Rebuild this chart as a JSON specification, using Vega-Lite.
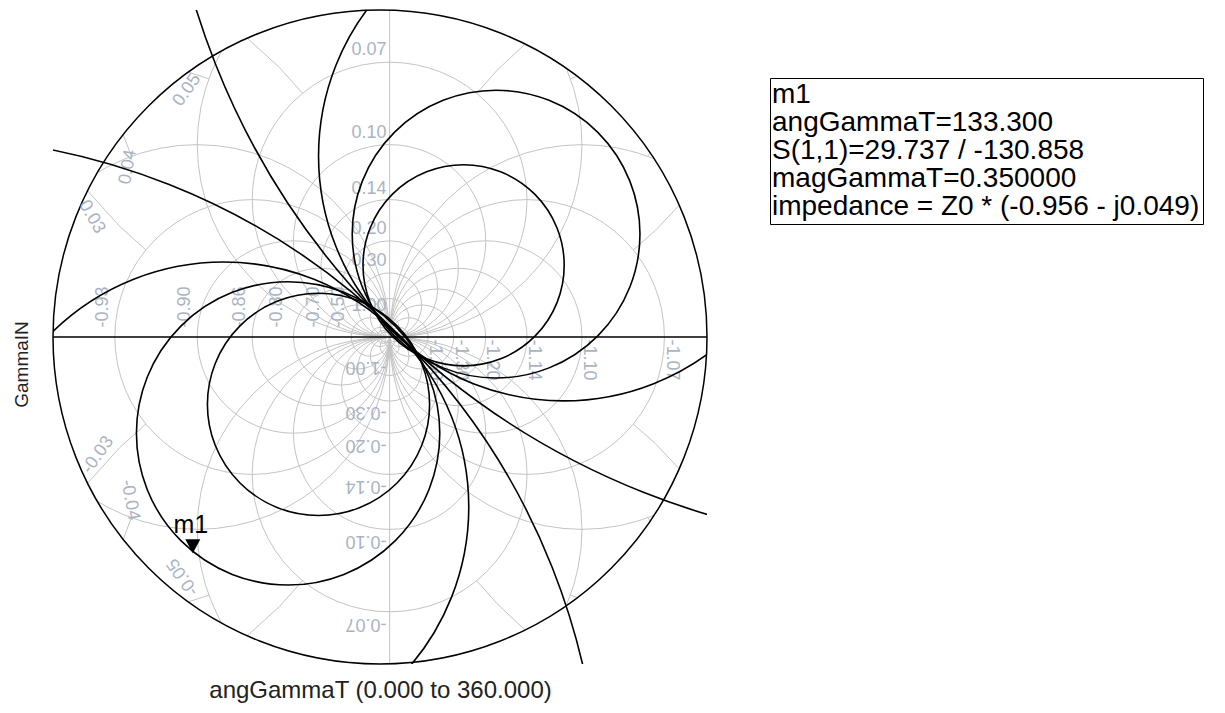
{
  "$schema": "https://vega.github.io/schema/vega-lite/v6.json",
  "width": 654,
  "height": 654,
  "autosize": "none",
  "padding": {"left": 53, "top": 10, "right": 518, "bottom": 49},
  "background": "white",
  "config": {"view": {"stroke": null}, "font": "Liberation Sans"},
  "datasets": {
    "grid": [
      {"gx": -19, "gy": 0, "r": 20},
      {"gx": -13.2857, "gy": 0, "r": 14.2857},
      {"gx": -9, "gy": 0, "r": 10},
      {"gx": -6.1429, "gy": 0, "r": 7.1429},
      {"gx": -4, "gy": 0, "r": 5},
      {"gx": -2.3333, "gy": 0, "r": 3.3333},
      {"gx": -1, "gy": 0, "r": 2},
      {"gx": 0, "gy": 0, "r": 1},
      {"gx": 0.3333, "gy": 0, "r": 0.6667},
      {"gx": 0.5, "gy": 0, "r": 0.5},
      {"gx": 21, "gy": 0, "r": 20},
      {"gx": 15.2857, "gy": 0, "r": 14.2857},
      {"gx": 11, "gy": 0, "r": 10},
      {"gx": 8.1429, "gy": 0, "r": 7.1429},
      {"gx": 6, "gy": 0, "r": 5},
      {"gx": 4.3333, "gy": 0, "r": 3.3333},
      {"gx": 3, "gy": 0, "r": 2},
      {"gx": 2, "gy": 0, "r": 1},
      {"gx": 1.5, "gy": 0, "r": 0.5},
      {"gx": 1, "gy": 20, "r": 20},
      {"gx": 1, "gy": -20, "r": 20},
      {"gx": 1, "gy": 14.2857, "r": 14.2857},
      {"gx": 1, "gy": -14.2857, "r": 14.2857},
      {"gx": 1, "gy": 10, "r": 10},
      {"gx": 1, "gy": -10, "r": 10},
      {"gx": 1, "gy": 7.1429, "r": 7.1429},
      {"gx": 1, "gy": -7.1429, "r": 7.1429},
      {"gx": 1, "gy": 5, "r": 5},
      {"gx": 1, "gy": -5, "r": 5},
      {"gx": 1, "gy": 3.3333, "r": 3.3333},
      {"gx": 1, "gy": -3.3333, "r": 3.3333},
      {"gx": 1, "gy": 2, "r": 2},
      {"gx": 1, "gy": -2, "r": 2},
      {"gx": 1, "gy": 1, "r": 1},
      {"gx": 1, "gy": -1, "r": 1},
      {"gx": 1, "gy": 0.5, "r": 0.5},
      {"gx": 1, "gy": -0.5, "r": 0.5}
    ],
    "segs": [
      {"seg": "a", "i": 0, "gx": -30.42, "gy": 15.22}, {"seg": "a", "i": 1, "gx": -27.07, "gy": 11.505}, {"seg": "a", "i": 2, "gx": -24.34, "gy": 9.05},
      {"seg": "b", "i": 0, "gx": 31.1, "gy": 13.69}, {"seg": "b", "i": 1, "gx": 28.59, "gy": 11.04}, {"seg": "b", "i": 2, "gx": 26.34, "gy": 9.05},
      {"seg": "c", "i": 0, "gx": -30.42, "gy": -15.22}, {"seg": "c", "i": 1, "gx": -27.07, "gy": -11.505}, {"seg": "c", "i": 2, "gx": -24.34, "gy": -9.05},
      {"seg": "d", "i": 0, "gx": 31.1, "gy": -13.69}, {"seg": "d", "i": 1, "gx": 28.59, "gy": -11.04}, {"seg": "d", "i": 2, "gx": 26.34, "gy": -9.05},
      {"seg": "e", "i": 0, "gx": -13.81, "gy": 31.07}, {"seg": "e", "i": 1, "gx": -10.44, "gy": 28.01}, {"seg": "e", "i": 2, "gx": -8.05, "gy": 25.34},
      {"seg": "f", "i": 0, "gx": 15.09, "gy": 30.47}, {"seg": "f", "i": 1, "gx": 12.19, "gy": 27.75}, {"seg": "f", "i": 2, "gx": 10.05, "gy": 25.34},
      {"seg": "g", "i": 0, "gx": -13.81, "gy": -31.07}, {"seg": "g", "i": 1, "gx": -10.44, "gy": -28.01}, {"seg": "g", "i": 2, "gx": -8.05, "gy": -25.34},
      {"seg": "h", "i": 0, "gx": 15.09, "gy": -30.47}, {"seg": "h", "i": 1, "gx": 12.19, "gy": -27.75}, {"seg": "h", "i": 2, "gx": 10.05, "gy": -25.34},
      {"seg": "i", "i": 0, "gx": -26.75, "gy": 21.18}, {"seg": "i", "i": 1, "gx": -25.85, "gy": 18.79},
      {"seg": "j", "i": 0, "gx": 28.16, "gy": 19.26}, {"seg": "j", "i": 1, "gx": 27.85, "gy": 18.79},
      {"seg": "k", "i": 0, "gx": -26.75, "gy": -21.18}, {"seg": "k", "i": 1, "gx": -25.85, "gy": -18.79},
      {"seg": "l", "i": 0, "gx": 28.16, "gy": -19.26}, {"seg": "l", "i": 1, "gx": 27.85, "gy": -18.79},
      {"seg": "m", "i": 0, "gx": -19.95, "gy": 27.54}, {"seg": "m", "i": 1, "gx": -17.79, "gy": 26.85},
      {"seg": "n", "i": 0, "gx": 20.53, "gy": 27.1}, {"seg": "n", "i": 1, "gx": 19.79, "gy": 26.85},
      {"seg": "o", "i": 0, "gx": -19.95, "gy": -27.54}, {"seg": "o", "i": 1, "gx": -17.79, "gy": -26.85},
      {"seg": "p", "i": 0, "gx": 20.53, "gy": -27.1}, {"seg": "p", "i": 1, "gx": 19.79, "gy": -26.85},
      {"seg": "v", "i": 0, "gx": 1, "gy": -33.985}, {"seg": "v", "i": 1, "gx": 1, "gy": 33.985}
    ],
    "boundary": [{"gx": 0, "gy": 0, "r": 34}],
    "axisline": [{"i": 0, "gx": -34, "gy": 0}, {"i": 1, "gx": 34, "gy": 0}],
    "curves": [
      {"curve": 1, "gx": 8.692, "gy": 7.455, "r": 10.46},
      {"curve": 2, "gx": 12.07, "gy": 10.7, "r": 14.96},
      {"curve": 3, "gx": 19.08, "gy": 18.83, "r": 25.47},
      {"curve": 4, "gx": 56.65, "gy": 57.59, "r": 79.33},
      {"curve": 5, "gx": -6.394, "gy": -7.008, "r": 11.55},
      {"curve": 6, "gx": -9.555, "gy": -10.02, "r": 15.77},
      {"curve": 7, "gx": -16.24, "gy": -17.67, "r": 25.47},
      {"curve": 8, "gx": -48.04, "gy": -50.1, "r": 70.94}
    ],
    "labels": [
      {"side": "top", "text": "0.07", "gx": -1.14, "gy": 29.84},
      {"side": "top", "text": "0.10", "gx": -1.14, "gy": 21.25},
      {"side": "top", "text": "0.14", "gx": -1.14, "gy": 15.44},
      {"side": "top", "text": "0.20", "gx": -1.14, "gy": 11.25},
      {"side": "top", "text": "0.30", "gx": -1.14, "gy": 7.9},
      {"side": "top", "text": "1.00", "gx": -1.14, "gy": 3.22},
      {"side": "bottom", "text": "-0.07", "gx": -1.46, "gy": -29.84},
      {"side": "bottom", "text": "-0.10", "gx": -1.46, "gy": -21.21},
      {"side": "bottom", "text": "-0.14", "gx": -1.46, "gy": -15.54},
      {"side": "bottom", "text": "-0.20", "gx": -1.46, "gy": -11.18},
      {"side": "bottom", "text": "-0.30", "gx": -1.46, "gy": -7.85},
      {"side": "bottom", "text": "-1.00", "gx": -1.46, "gy": -3.12},
      {"side": "left", "text": "-0.93", "gx": -28.8, "gy": 3.12},
      {"side": "left", "text": "-0.90", "gx": -20.28, "gy": 3.12},
      {"side": "left", "text": "-0.86", "gx": -14.56, "gy": 3.12},
      {"side": "left", "text": "-0.80", "gx": -10.71, "gy": 3.12},
      {"side": "left", "text": "-0.70", "gx": -6.91, "gy": 3.12},
      {"side": "left", "text": "-0.50", "gx": -4.26, "gy": 3.12},
      {"side": "right", "text": "-1.50", "gx": 5.72, "gy": -2.39},
      {"side": "right", "text": "-1.30", "gx": 8.42, "gy": -2.39},
      {"side": "right", "text": "-1.20", "gx": 11.65, "gy": -2.39},
      {"side": "right", "text": "-1.14", "gx": 16.01, "gy": -2.39},
      {"side": "right", "text": "-1.10", "gx": 21.73, "gy": -2.39},
      {"side": "right", "text": "-1.07", "gx": 30.31, "gy": -2.39},
      {"side": "d305", "text": "0.05", "gx": -20.07, "gy": 25.68},
      {"side": "d305", "text": "-0.03", "gx": -29.32, "gy": -12.27},
      {"side": "d280", "text": "0.04", "gx": -26.2, "gy": 17.68},
      {"side": "d60", "text": "0.03", "gx": -29.95, "gy": 12.48},
      {"side": "d80", "text": "-0.04", "gx": -25.99, "gy": -16.95},
      {"side": "d235", "text": "-0.05", "gx": -20.48, "gy": -24.95}
    ],
    "marker": [{"name": "m1", "gx": -19.464, "gy": -22.483}],
    "readout": [
      {"line": "m1"},
      {"line": "angGammaT=133.300"},
      {"line": "S(1,1)=29.737 / -130.858"},
      {"line": "magGammaT=0.350000"},
      {"line": "impedance = Z0 * (-0.956 - j0.049)"}
    ]
  },
  "encoding": {
    "x": {
      "field": "gx", "type": "quantitative",
      "scale": {"domain": [-34, 34], "nice": false, "zero": false},
      "axis": {"title": "angGammaT (0.000 to 360.000)", "labels": false, "ticks": false, "domain": false, "grid": false,
               "titleFont": "Liberation Sans", "titleFontSize": 24, "titleFontWeight": "normal", "titleColor": "#222222", "titlePadding": 14}
    },
    "y": {
      "field": "gy", "type": "quantitative",
      "scale": {"domain": [-34, 34], "nice": false, "zero": false},
      "axis": {"title": "GammaIN", "labels": false, "ticks": false, "domain": false, "grid": false,
               "titleFont": "Liberation Sans", "titleFontSize": 19, "titleFontWeight": "normal", "titleColor": "#222222", "titlePadding": 22, "titleY": 354}
    }
  },
  "layer": [
    {
      "data": {"name": "grid"},
      "mark": {"type": "point", "shape": "circle", "filled": false, "stroke": "#c4c4c4", "strokeWidth": 1, "opacity": 1, "clip": true},
      "encoding": {
        "size": {"field": "r", "type": "quantitative", "scale": {"type": "pow", "exponent": 2, "domain": [0, 1], "range": [0, 369.996]}, "legend": null}
      }
    },
    {
      "data": {"name": "segs"},
      "mark": {"type": "line", "stroke": "#c4c4c4", "strokeWidth": 1, "clip": true},
      "encoding": {"detail": {"field": "seg"}, "order": {"field": "i", "type": "quantitative"}}
    },
    {
      "data": {"name": "boundary"},
      "mark": {"type": "point", "shape": "circle", "filled": false, "stroke": "white", "strokeWidth": 600, "size": 1575025, "opacity": 1, "clip": true}
    },
    {
      "data": {"name": "boundary"},
      "mark": {"type": "point", "shape": "circle", "filled": false, "stroke": "black", "strokeWidth": 1.5, "opacity": 1},
      "encoding": {
        "size": {"field": "r", "type": "quantitative", "scale": {"type": "pow", "exponent": 2, "domain": [0, 1], "range": [0, 369.996]}, "legend": null}
      }
    },
    {
      "data": {"name": "axisline"},
      "mark": {"type": "line", "stroke": "black", "strokeWidth": 1.5},
      "encoding": {"order": {"field": "i", "type": "quantitative"}}
    },
    {
      "data": {"name": "labels"},
      "transform": [{"filter": "datum.side === 'top'"}],
      "mark": {"type": "text", "font": "Liberation Sans Narrow, Liberation Sans", "fontSize": 18, "fill": "#aab3c4", "align": "center", "baseline": "middle", "angle": 0},
      "encoding": {"text": {"field": "text"}}
    },
    {
      "data": {"name": "labels"},
      "transform": [{"filter": "datum.side === 'bottom'"}],
      "mark": {"type": "text", "font": "Liberation Sans Narrow, Liberation Sans", "fontSize": 18, "fill": "#aab3c4", "align": "center", "baseline": "middle", "angle": 180},
      "encoding": {"text": {"field": "text"}}
    },
    {
      "data": {"name": "labels"},
      "transform": [{"filter": "datum.side === 'left'"}],
      "mark": {"type": "text", "font": "Liberation Sans Narrow, Liberation Sans", "fontSize": 18, "fill": "#aab3c4", "align": "center", "baseline": "middle", "angle": 270},
      "encoding": {"text": {"field": "text"}}
    },
    {
      "data": {"name": "labels"},
      "transform": [{"filter": "datum.side === 'right'"}],
      "mark": {"type": "text", "font": "Liberation Sans Narrow, Liberation Sans", "fontSize": 18, "fill": "#aab3c4", "align": "center", "baseline": "middle", "angle": 90},
      "encoding": {"text": {"field": "text"}}
    },
    {
      "data": {"name": "labels"},
      "transform": [{"filter": "datum.side === 'd305'"}],
      "mark": {"type": "text", "font": "Liberation Sans Narrow, Liberation Sans", "fontSize": 18, "fill": "#aab3c4", "align": "center", "baseline": "middle", "angle": 305},
      "encoding": {"text": {"field": "text"}}
    },
    {
      "data": {"name": "labels"},
      "transform": [{"filter": "datum.side === 'd280'"}],
      "mark": {"type": "text", "font": "Liberation Sans Narrow, Liberation Sans", "fontSize": 18, "fill": "#aab3c4", "align": "center", "baseline": "middle", "angle": 280},
      "encoding": {"text": {"field": "text"}}
    },
    {
      "data": {"name": "labels"},
      "transform": [{"filter": "datum.side === 'd60'"}],
      "mark": {"type": "text", "font": "Liberation Sans Narrow, Liberation Sans", "fontSize": 18, "fill": "#aab3c4", "align": "center", "baseline": "middle", "angle": 60},
      "encoding": {"text": {"field": "text"}}
    },
    {
      "data": {"name": "labels"},
      "transform": [{"filter": "datum.side === 'd80'"}],
      "mark": {"type": "text", "font": "Liberation Sans Narrow, Liberation Sans", "fontSize": 18, "fill": "#aab3c4", "align": "center", "baseline": "middle", "angle": 80},
      "encoding": {"text": {"field": "text"}}
    },
    {
      "data": {"name": "labels"},
      "transform": [{"filter": "datum.side === 'd235'"}],
      "mark": {"type": "text", "font": "Liberation Sans Narrow, Liberation Sans", "fontSize": 18, "fill": "#aab3c4", "align": "center", "baseline": "middle", "angle": 235},
      "encoding": {"text": {"field": "text"}}
    },
    {
      "data": {"name": "curves"},
      "mark": {"type": "point", "shape": "circle", "filled": false, "stroke": "black", "strokeWidth": 1.6, "opacity": 1, "clip": true},
      "encoding": {
        "size": {"field": "r", "type": "quantitative", "scale": {"type": "pow", "exponent": 2, "domain": [0, 1], "range": [0, 369.996]}, "legend": null}
      }
    },
    {
      "data": {"name": "marker"},
      "mark": {"type": "point", "shape": "M-1,-1.87L1,-1.87L0,0Z", "size": 225, "filled": true, "fill": "black", "stroke": null, "opacity": 1}
    },
    {
      "data": {"name": "marker"},
      "mark": {"type": "text", "font": "Liberation Sans", "fontSize": 25, "fill": "black", "align": "center", "baseline": "alphabetic", "dy": -20, "dx": -2},
      "encoding": {"text": {"field": "name"}}
    },
    {
      "data": {"name": "readout"},
      "mark": {"type": "point", "opacity": 0},
      "encoding": {
        "x": {"datum": 0},
        "y": {"datum": 0},
        "color": {
          "field": "line", "type": "nominal",
          "scale": {"domain": ["m1", "angGammaT=133.300", "S(1,1)=29.737 / -130.858", "magGammaT=0.350000", "impedance = Z0 * (-0.956 - j0.049)"],
                    "range": ["black", "black", "black", "black", "black"]},
          "legend": {"title": null,
                     "orient": "none", "legendX": 717, "legendY": 68, "strokeColor": "black", "padding": 3,
                     "labelFont": "Liberation Sans", "labelFontSize": 28, "labelColor": "black", "labelLimit": 800, "labelOffset": -29,
                     "symbolSize": 0, "symbolOpacity": 0, "symbolStrokeWidth": 0, "rowPadding": 0}
        }
      }
    }
  ]
}
